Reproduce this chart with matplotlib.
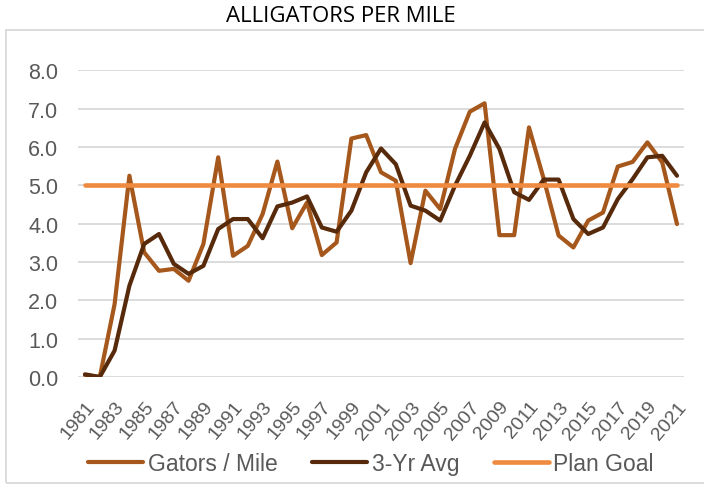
import matplotlib
matplotlib.use("Agg")
import matplotlib.pyplot as plt
from matplotlib.patches import Rectangle
import numpy as np

years = list(range(1981, 2022))
gators = [0.05, 0.0, 1.9, 5.25, 3.25, 2.77, 2.82, 2.51, 3.47, 5.73,
          3.16, 3.42, 4.25, 5.62, 3.88, 4.55, 3.18, 3.51, 6.22, 6.31,
          5.34, 5.12, 2.97, 4.86, 4.38, 5.95, 6.92, 7.14, 3.7, 3.7,
          6.51, 5.16, 3.69, 3.38, 4.08, 4.29, 5.49, 5.61, 6.12, 5.6, 3.99]
avg3 = [0.07, 0.0, 0.69, 2.38, 3.47, 3.73, 2.95, 2.69, 2.9, 3.86,
        4.12, 4.12, 3.62, 4.45, 4.55, 4.71, 3.9, 3.79, 4.34, 5.34,
        5.96, 5.55, 4.47, 4.34, 4.08, 4.99, 5.77, 6.64, 5.95, 4.82,
        4.62, 5.15, 5.15, 4.12, 3.73, 3.9, 4.64, 5.16, 5.73, 5.77, 5.25]
plan_goal = [5.0] * len(years)
yticks = [0.0, 1.0, 2.0, 3.0, 4.0, 5.0, 6.0, 7.0, 8.0]
xtick_labels = [str(y) for y in years[::2]]

W, H = 704, 485
fig = plt.figure(figsize=(W / 100, H / 100), dpi=100)
fig.patch.set_facecolor("white")

# chart frame
fig.add_artist(Rectangle((6 / W, 1 / H), 1.2, (484 - 31) / H, transform=fig.transFigure,
                         fill=False, edgecolor="#D9D9D9", lw=1.3))

left, right = 77.6 / W, 684.4 / W
bottom, top = 1 - 378 / H, 1 - 71.3 / H
ax = fig.add_axes([left, bottom, right - left, top - bottom])

x = np.arange(len(years))
l1, = ax.plot(x, gators, color="#A5571C", lw=3.0, solid_joinstyle="round",
              solid_capstyle="round", label="Gators / Mile", zorder=3)
l2, = ax.plot(x, avg3, color="#572A0B", lw=3.0, solid_joinstyle="round",
              solid_capstyle="round", label="3-Yr Avg", zorder=4)
l3, = ax.plot(x, plan_goal, color="#EF8B40", lw=3.3, solid_capstyle="round",
              label="Plan Goal", zorder=5)

ax.set_xlim(-0.5, len(years) - 0.5)
ax.set_ylim(0, 8)
ax.set_yticks(yticks)
ax.set_yticklabels([f"{v:.1f}" for v in yticks], fontsize=15.5,
                   family="Liberation Sans", color="#595959")
ax.set_xticks(x[::2])
ax.set_xticklabels(xtick_labels, rotation=50, ha="right", va="top",
                   rotation_mode="anchor", fontsize=14, family="Liberation Sans",
                   color="#595959")
ax.tick_params(axis="both", length=0)
ax.tick_params(axis="y", pad=14)
ax.tick_params(axis="x", pad=15)
ax.grid(axis="y", color="#D9D9D9", lw=1.3)
ax.set_axisbelow(True)
for s in ax.spines.values():
    s.set_visible(False)

fig.text(341 / W, 1 - 16 / H, "ALLIGATORS PER MILE", ha="center", va="center",
         fontsize=16, family="Open Sans", color="#000000")

leg = fig.legend(handles=[l1, l2, l3], loc="center", bbox_to_anchor=(371 / W, 1 - 465 / H),
                 ncol=3, frameon=False, handlelength=2.4, handletextpad=0.2,
                 columnspacing=1.5, prop={"family": "Liberation Sans", "size": 16.5})
for t in leg.get_texts():
    t.set_color("#595959")

fig.savefig("out.png", dpi=100, facecolor="white")
